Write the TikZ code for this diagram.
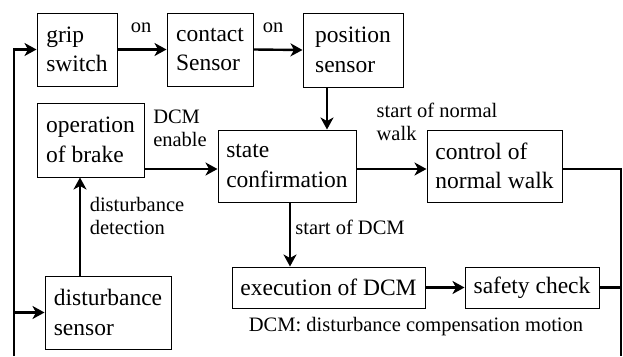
\documentclass[tikz,border=0pt]{standalone}
\usepackage{fontspec}
\setmainfont{Liberation Serif}
\usepackage{tikz}
\usetikzlibrary{arrows.meta, positioning, calc}

\begin{document}
\begin{tikzpicture}[x=1pt, y=-1pt,
    block/.style={draw, line width=1pt, align=left, inner sep=0pt, font=\fontsize{23.5}{29.5}\selectfont},
    lbl/.style={align=left, inner sep=0pt, font=\fontsize{20.5}{23}\selectfont},
    flow/.style={line width=2.4pt, -{Stealth[length=12pt, width=13pt, inset=3.5pt]}},
    wire/.style={line width=2.4pt}]
    \useasboundingbox (0,0) rectangle (623,356);

    % Sensor chain (top row)
    \node[block, minimum width=80pt, minimum height=73pt] (grip) at (77,49.5) {grip\\switch};
    \node[block, minimum width=86pt, minimum height=73pt] (contact) at (210,49.5) {contact\\Sensor};
    \node[block, minimum width=100pt, minimum height=74pt] (position) at (353,50) {position\\sensor};

    % Middle row
    \node[block, minimum width=107pt, minimum height=74pt] (brake) at (90.5,140) {operation\\of brake};
    \node[block, minimum width=138pt, minimum height=72pt] (state) at (287,166) {state\\confirmation};
    \node[block, minimum width=135pt, minimum height=72pt] (control) at (494.5,166) {control of\\normal walk};

    % Bottom row
    \node[block, minimum width=126pt, minimum height=73pt] (dsensor) at (108,312.5) {disturbance\\sensor};
    \node[block, minimum width=193pt, minimum height=41pt] (exec) at (328.5,287.5) {execution of DCM};
    \node[block, minimum width=134pt, minimum height=41pt] (safety) at (532,287.5) {safety check};

    % Connector labels
    \node[lbl] (on1) at (141,28) {on};
    \node[lbl] (on2) at (273,28) {on};
    \node[lbl] (dcmen) at (180,128) {DCM\\enable};
    \node[lbl] (startnw) at (437,122) {start of normal\\walk};
    \node[lbl] (detect) at (137,216) {disturbance\\detection};
    \node[lbl] (startdcm) at (350,227) {start of DCM};
    \node[lbl] (caption) at (416,327) {DCM: disturbance compensation motion};

    % Arrows between blocks
    \draw[flow] (grip.east) -- (contact.west);
    \draw[flow] (contact.east) -- (position.west);
    \draw[flow] ([xshift=-26pt]position.south) -- ([xshift=-26pt]position.south |- state.north);
    \draw[flow] ([yshift=-3pt]state.west -| brake.east) -- ([yshift=-3pt]state.west);
    \draw[flow] ([yshift=-3pt]state.east) -- ([yshift=-3pt]control.west);
    \draw[flow] ([xshift=-28pt]dsensor.north) -- ([xshift=-28pt]dsensor.north |- brake.south);
    \draw[flow] ([xshift=3pt]state.south) -- ([xshift=3pt]state.south |- exec.north);
    \draw[flow] (exec.east) -- (safety.west);

    % Feedback lines running off the bottom
    \coordinate (loopL) at (14,356);
    \coordinate (loopR) at (621,356);
    \draw[flow] (loopL) |- (grip.west);
    \draw[flow] (loopL |- dsensor.west) -- (dsensor.west);
    \draw[wire] ([yshift=-3pt]control.east) -| (loopR);
    \draw[wire] (safety.east) -- (safety.east -| loopR);
\end{tikzpicture}
\end{document}
